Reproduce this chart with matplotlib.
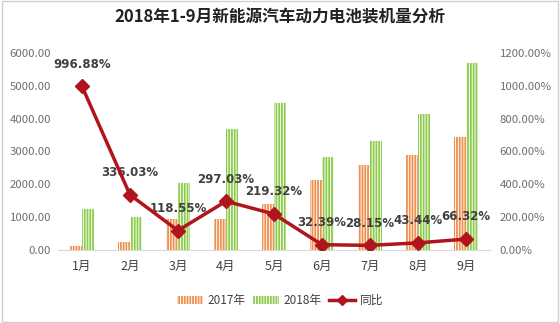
import matplotlib.pyplot as plt
import numpy as np
from matplotlib.patches import Patch
from matplotlib.lines import Line2D

plt.rcParams['font.family'] = ['Noto Sans CJK SC', 'DejaVu Sans']
plt.rcParams['hatch.linewidth'] = 1.3

months = ['1月', '2月', '3月', '4月', '5月', '6月', '7月', '8月', '9月']
y2017 = [114, 229, 938, 932, 1403, 2145, 2591, 2893, 3427]
y2018 = [1250, 1000, 2050, 3700, 4480, 2840, 3320, 4150, 5700]
yoy = [996.88, 336.03, 118.55, 297.03, 219.32, 32.39, 28.15, 43.44, 66.32]

orange = '#EE8F4E'
green = '#8CCB4A'
red = '#B0141C'
grey = '#6E6E6E'

fig = plt.figure(figsize=(5.6, 3.23), dpi=100)
ax = fig.add_axes([0.1036, 0.226, 0.771, 0.61])
ax2 = ax.twinx()

x = np.arange(len(months))
w = 0.25
ax.bar(x - 0.13, y2017, w, facecolor='white', edgecolor=orange, hatch='||||||', linewidth=0)
ax.bar(x + 0.13, y2018, w, facecolor='white', edgecolor=green, hatch='||||||', linewidth=0)

ax.set_xlim(-0.5, len(months) - 0.5)
ax.set_ylim(0, 6000)
ax.set_yticks(np.arange(0, 6001, 1000))
ax.set_yticklabels(['%.2f' % v for v in np.arange(0, 6001, 1000)])
ax.set_xticks(x)
ax.set_xticklabels(months)

ax2.plot(x, yoy, color=red, linewidth=2.5, marker='D', markersize=7, zorder=5)
ax2.set_ylim(0, 1200)
ax2.set_yticks(np.arange(0, 1201, 200))
ax2.set_yticklabels(['%.2f%%' % v for v in np.arange(0, 1201, 200)])

for a in (ax, ax2):
    for s in a.spines.values():
        s.set_visible(False)
    a.tick_params(length=0, labelsize=8.2, labelcolor=grey)
ax.spines['bottom'].set_visible(True)
ax.spines['bottom'].set_color('#D9D9D9')
ax.tick_params(axis='y', pad=5)
ax.tick_params(axis='x', pad=7, labelsize=9, labelcolor='#404040')
ax2.tick_params(axis='y', pad=7)

# percentage labels above each point of the line
for xi, v in zip(x, yoy):
    ax2.annotate('%.2f%%' % v, (xi, v), xytext=(0, 16), textcoords='offset points',
                 ha='center', va='center', fontsize=8.5, fontweight='bold',
                 color='#404040', family=['DejaVu Sans'])

fig.text(0.5, 0.945, '2018年1-9月新能源汽车动力电池装机量分析', ha='center', va='center',
         fontsize=12, fontweight='bold', color='#222222')

handles = [Patch(facecolor='white', edgecolor=orange, hatch='||||||', linewidth=0, label='2017年'),
           Patch(facecolor='white', edgecolor=green, hatch='||||||', linewidth=0, label='2018年'),
           Line2D([], [], color=red, linewidth=2.5, marker='D', markersize=5, label='同比')]
fig.legend(handles=handles, loc='center', bbox_to_anchor=(0.5, 0.07), ncol=3, frameon=False,
           fontsize=8.5, handlelength=2.2, handleheight=0.7, columnspacing=0.6, handletextpad=0.4,
           labelcolor='#404040')

fig.patches.append(plt.Rectangle((0.004, 0.004), 0.992, 0.992, transform=fig.transFigure,
                                 fill=False, edgecolor='#D0D0D0', linewidth=1))

fig.savefig('out.png', dpi=100)
